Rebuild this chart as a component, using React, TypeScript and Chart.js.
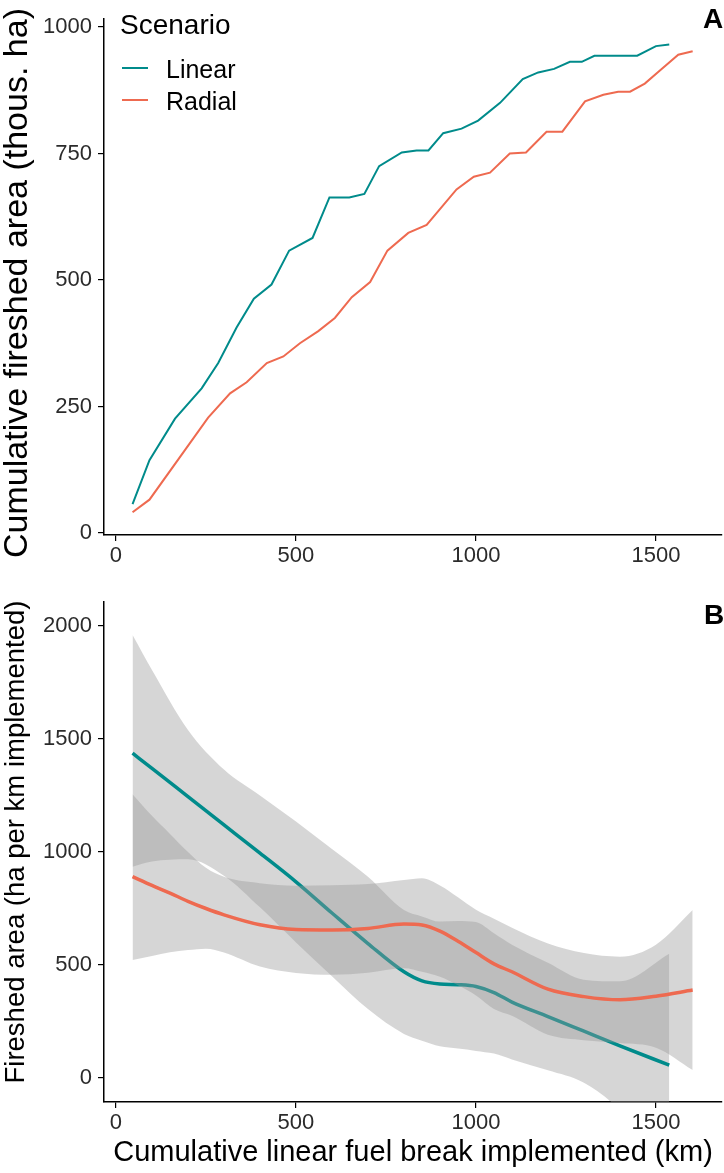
import React, { useEffect, useRef } from 'react';
import { Chart, registerables } from 'chart.js';

Chart.register(...registerables);

const FONT = "'Liberation Sans', Arial, Helvetica, sans-serif";
const TEAL = '#008B8B';
const CORAL = '#EE6A50';
const BAND = 'rgba(153,153,153,0.4)';

// ---- Panel A: cumulative fireshed area (thous. ha) ----
const linearX = [46, 93, 164, 238, 284, 335, 383, 432, 481, 546, 593, 648, 690, 731, 794, 835, 868, 909, 960, 1006, 1067, 1130, 1173, 1217, 1261, 1294, 1329, 1448, 1500, 1537];
const linearY = [57, 144, 226, 286, 336, 406, 463, 491, 558, 583, 663, 663, 670, 725, 752, 756, 756, 790, 799, 815, 850, 897, 910, 917, 931, 931, 943, 943, 962, 965];
const radialX = [46, 93, 256, 317, 363, 419, 465, 511, 562, 608, 655, 706, 754, 812, 863, 946, 994, 1039, 1094, 1139, 1196, 1240, 1303, 1354, 1395, 1428, 1469, 1511, 1562, 1602];
const radialY = [41, 66, 228, 276, 298, 336, 349, 375, 399, 425, 466, 496, 558, 593, 609, 679, 704, 712, 750, 752, 793, 793, 853, 866, 872, 872, 888, 914, 945, 952];

// ---- Panel B: smoothed fireshed area per km (with confidence bands) ----
const linSmoothX = [46, 100, 200, 300, 400, 500, 600, 700, 800, 850, 900, 950, 1000, 1050, 1100, 1200, 1300, 1400, 1537];
const linSmoothY = [1437, 1370, 1245, 1120, 995, 868, 730, 595, 470, 430, 416, 413, 405, 378, 336, 272, 207, 142, 57];
const linUpper = [1960, 1805, 1540, 1365, 1250, 1135, 1013, 890, 743, 715, 692, 695, 690, 640, 590, 510, 435, 428, 550];
const linLower = [935, 958, 968, 895, 755, 600, 450, 305, 195, 165, 140, 130, 120, 108, 82, 34, -21, -144, -436];

const radSmoothX = [46, 100, 150, 200, 250, 300, 400, 500, 600, 700, 800, 850, 900, 950, 1000, 1050, 1100, 1200, 1300, 1400, 1500, 1602];
const radSmoothY = [891, 852, 818, 782, 750, 722, 678, 657, 655, 662, 681, 677, 650, 605, 555, 505, 470, 393, 360, 346, 362, 389];
const radUpper = [1256, 1160, 1080, 1000, 930, 890, 862, 851, 853, 858, 876, 884, 852, 800, 745, 705, 665, 595, 553, 537, 590, 743];
const radLower = [522, 540, 556, 566, 572, 555, 493, 465, 457, 466, 486, 470, 448, 410, 365, 305, 275, 191, 167, 155, 134, 35];

const xTicks = [0, 500, 1000, 1500];
const yTicksA = [0, 250, 500, 750, 1000];
const yTicksB = [0, 500, 1000, 1500, 2000];

const seriesNames = ['Linear', 'Radial'];
const legendTitle = 'Scenario';
const xTitle = 'Cumulative linear fuel break implemented (km)';
const yTitleA = 'Cumulative fireshed area (thous. ha)';
const yTitleB = 'Fireshed area (ha per km implemented)';

const pts = (xs: number[], ys: number[]) => xs.map((x, i) => ({ x, y: ys[i] }));

const tickFont = { family: FONT, size: 22 };
const tickColor = '#2b2b2b';

function xScale(height: number, title?: string) {
  return {
    type: 'linear',
    min: -33.3,
    max: 1683.5,
    afterBuildTicks: (s: any) => { s.ticks = xTicks.map((v) => ({ value: v })); },
    afterFit: (s: any) => { s.height = height; },
    grid: { display: true, drawOnChartArea: false, drawTicks: true, tickLength: 6, color: '#000', lineWidth: 1.2 },
    border: { display: true, color: '#000', width: 1.5 },
    ticks: { font: tickFont, color: tickColor, padding: 2, maxRotation: 0, autoSkip: false, callback: (v: any) => String(v) },
    title: title
      ? { display: true, text: title, font: { family: FONT, size: 29 }, color: '#000', padding: { top: 0, bottom: 3 } }
      : { display: false },
  };
}

function yScale(min: number, max: number, ticks: number[]) {
  return {
    type: 'linear',
    min,
    max,
    afterBuildTicks: (s: any) => { s.ticks = ticks.map((v) => ({ value: v })); },
    afterFit: (s: any) => { s.width = 104; },
    grid: { display: true, drawOnChartArea: false, drawTicks: true, tickLength: 6, color: '#000', lineWidth: 1.2 },
    border: { display: true, color: '#000', width: 1.5 },
    ticks: { font: tickFont, color: tickColor, padding: 6, autoSkip: false, callback: (v: any) => String(v) },
    title: { display: false },
  };
}

const baseOpts = {
  responsive: false,
  animation: false,
  events: [],
  plugins: { legend: { display: false }, tooltip: { enabled: false } },
  elements: { point: { radius: 0 } },
};

export default function App() {
  const refA = useRef<HTMLCanvasElement>(null);
  const refB = useRef<HTMLCanvasElement>(null);

  useEffect(() => {
    document.body.style.margin = '0';
    const chartA = new Chart(refA.current as HTMLCanvasElement, {
      type: 'line',
      data: {
        datasets: [
          { label: seriesNames[0], data: pts(linearX, linearY), borderColor: TEAL, borderWidth: 2, tension: 0, fill: false, pointRadius: 0 },
          { label: seriesNames[1], data: pts(radialX, radialY), borderColor: CORAL, borderWidth: 2, tension: 0, fill: false, pointRadius: 0 },
        ],
      },
      options: {
        ...baseOpts,
        layout: { padding: { top: 0, right: 2, bottom: 0, left: 0 } },
        scales: {
          x: xScale(43),
          y: yScale(-3.8, 1015.2, yTicksA),
        },
      } as any,
    });

    const chartB = new Chart(refB.current as HTMLCanvasElement, {
      type: 'line',
      data: {
        datasets: [
          { label: 'lin-lo', data: pts(linSmoothX, linLower), borderWidth: 0, borderColor: 'rgba(0,0,0,0)', fill: false, cubicInterpolationMode: 'monotone', order: 6 },
          { label: 'lin-hi', data: pts(linSmoothX, linUpper), borderWidth: 0, borderColor: 'rgba(0,0,0,0)', backgroundColor: BAND, fill: '-1', cubicInterpolationMode: 'monotone', order: 5 },
          { label: seriesNames[0], data: pts(linSmoothX, linSmoothY), borderColor: TEAL, borderWidth: 3.5, fill: false, cubicInterpolationMode: 'monotone', order: 4 },
          { label: 'rad-lo', data: pts(radSmoothX, radLower), borderWidth: 0, borderColor: 'rgba(0,0,0,0)', fill: false, cubicInterpolationMode: 'monotone', order: 3 },
          { label: 'rad-hi', data: pts(radSmoothX, radUpper), borderWidth: 0, borderColor: 'rgba(0,0,0,0)', backgroundColor: BAND, fill: '-1', cubicInterpolationMode: 'monotone', order: 2 },
          { label: seriesNames[1], data: pts(radSmoothX, radSmoothY), borderColor: CORAL, borderWidth: 3.5, fill: false, cubicInterpolationMode: 'monotone', order: 1 },
        ],
      },
      options: {
        ...baseOpts,
        layout: { padding: { top: 24, right: 2, bottom: 0, left: 0 } },
        scales: {
          x: xScale(71, xTitle),
          y: yScale(-106.2, 2106.2, yTicksB),
        },
      } as any,
    });

    return () => { chartA.destroy(); chartB.destroy(); };
  }, []);

  const txt: React.CSSProperties = { position: 'absolute', fontFamily: FONT, color: '#000', whiteSpace: 'nowrap', margin: 0 };
  const vtitle = (cx: number, cy: number, size: number): React.CSSProperties => ({
    ...txt,
    left: cx,
    top: cy,
    fontSize: size,
    lineHeight: 1,
    transform: 'translate(-50%, -50%) rotate(-90deg)',
  });

  return (
    <div style={{ position: 'absolute', left: 0, top: 0, width: 724, height: 1173, background: '#fff', overflow: 'hidden' }}>
      <canvas ref={refA} width={724} height={578} style={{ position: 'absolute', left: 0, top: 0 }} />
      <canvas ref={refB} width={724} height={595} style={{ position: 'absolute', left: 0, top: 578 }} />
      <div style={vtitle(15, 283, 34)}>{yTitleA}</div>
      <div style={vtitle(15, 842, 27.5)}>{yTitleB}</div>
      <div style={{ ...txt, left: 120, top: 11, fontSize: 28, lineHeight: '28px' }}>{legendTitle}</div>
      <div style={{ position: 'absolute', left: 122, top: 67, width: 26, height: 2, background: TEAL }} />
      <div style={{ ...txt, left: 166, top: 57, fontSize: 25, lineHeight: '25px' }}>{seriesNames[0]}</div>
      <div style={{ position: 'absolute', left: 122, top: 99, width: 26, height: 2, background: CORAL }} />
      <div style={{ ...txt, left: 166, top: 89, fontSize: 25, lineHeight: '25px' }}>{seriesNames[1]}</div>
      <div style={{ ...txt, left: 703, top: 5, fontSize: 28, lineHeight: '28px', fontWeight: 'bold' }}>A</div>
      <div style={{ ...txt, left: 704, top: 601, fontSize: 28, lineHeight: '28px', fontWeight: 'bold' }}>B</div>
    </div>
  );
}
